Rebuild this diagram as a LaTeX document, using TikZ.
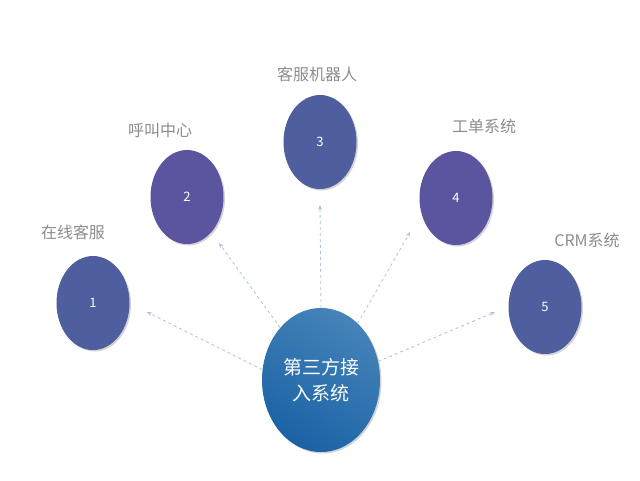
\documentclass[tikz,border=0pt]{standalone}
\usepackage{fontspec}
\setmainfont{Noto Sans CJK SC}
\usetikzlibrary{shadows,arrows.meta}
\definecolor{cA}{HTML}{4E5E9E}
\definecolor{cB}{HTML}{5B55A0}
\definecolor{cC1}{HTML}{4583B8}
\definecolor{cC2}{HTML}{1B63A6}
\definecolor{lab}{HTML}{8C8C8C}
\definecolor{arr}{HTML}{A9C4DC}
\tikzset{
 sat/.style={ellipse,minimum width=73pt,minimum height=94pt,inner sep=0pt,text=white,font=\fontsize{13}{13}\selectfont,drop shadow={opacity=0.35,shadow xshift=1.5pt,shadow yshift=-1.5pt}},
 ell/.style={ellipse},
 lbl/.style={text=lab,font=\fontsize{16}{16}\selectfont},
 con/.style={draw=arr,dashed,line width=0.8pt,-{Stealth[length=5pt,width=4pt]}}
}
\usetikzlibrary{shapes.geometric}
\begin{document}
\begin{tikzpicture}[x=1pt,y=-1pt]
\useasboundingbox (0,0) rectangle (640,480);
\node[sat,ell,fill=cA] (n1) at (93,303) {1};
\node[sat,ell,fill=cB] (n2) at (187,197) {2};
\node[sat,ell,fill=cA] (n3) at (320,142) {3};
\node[sat,ell,fill=cB] (n4) at (456,198) {4};
\node[sat,ell,fill=cA] (n5) at (545,307) {5};
\node[ell,minimum width=118pt,minimum height=144pt,inner sep=0pt,top color=cC1,bottom color=cC2,shading angle=-30,text=white,align=center,font=\fontsize{19}{26}\selectfont,drop shadow={opacity=0.35,shadow xshift=1.5pt,shadow yshift=-1.5pt}] (c) at (321,380) {第三方接\\入系统};
\node[lbl] (l1) at (73,232) {在线客服};
\node[lbl] (l2) at (160,130) {呼叫中心};
\node[lbl] (l3) at (317,74) {客服机器人};
\node[lbl] (l4) at (484,126) {工单系统};
\node[lbl] (l5) at (587,240) {CRM系统};
\coordinate (e1) at (147,312);
\coordinate (e2) at (219,243);
\coordinate (e3) at (320,205);
\coordinate (e4) at (410,232);
\coordinate (e5) at (495,312);
\draw[con] (c.170) -- (e1);
\draw[con] (c.128) -- (e2);
\draw[con] (c.north) -- (e3);
\draw[con] (c.57) -- (e4);
\draw[con] (c.18) -- (e5);
\end{tikzpicture}
\end{document}
